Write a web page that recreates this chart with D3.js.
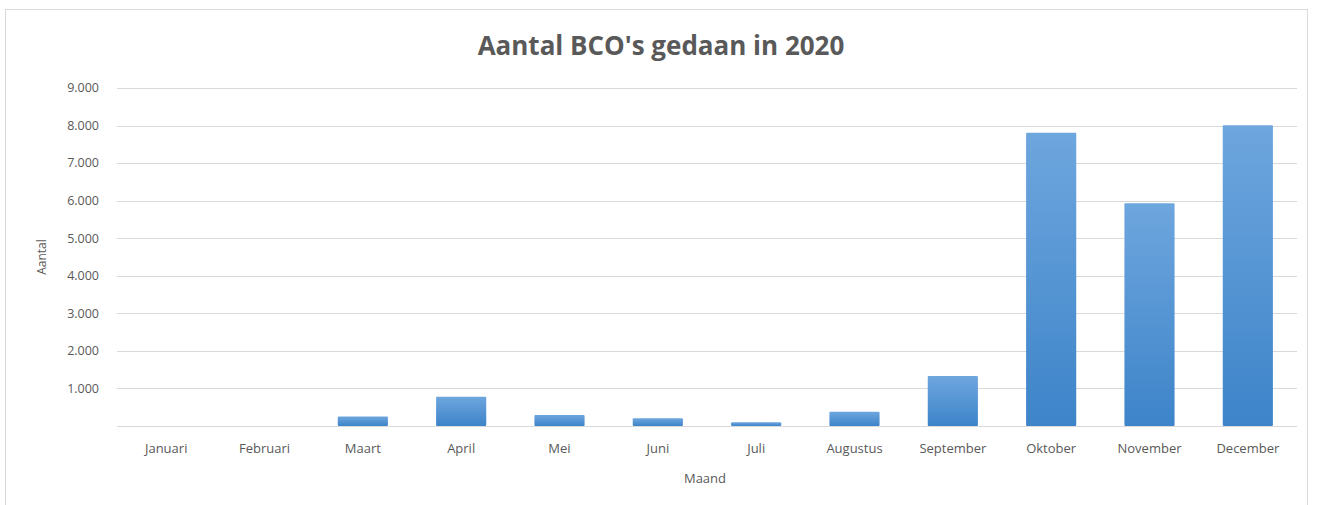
<!DOCTYPE html>
<html>
<head>
<meta charset="utf-8">
<script src="https://cdn.jsdelivr.net/npm/d3@7"></script>
<style>
  body { margin: 0; background: #fff; }
  svg { display: block; font-family: "Open Sans", "Liberation Sans", sans-serif; }
</style>
</head>
<body>
<svg id="chart" width="1317" height="505"></svg>
<script>
const months = ["Januari", "Februari", "Maart", "April", "Mei", "Juni", "Juli",
  "Augustus", "September", "Oktober", "November", "December"];
const counts = [0, 0, 250, 780, 295, 205, 100, 380, 1330, 7810, 5930, 8010];
const yTicks = [1000, 2000, 3000, 4000, 5000, 6000, 7000, 8000, 9000];

const width = 1317, height = 505;
const margin = { top: 88, right: 20, bottom: 79, left: 117 };

const svg = d3.select("#chart");

// chart frame
svg.append("rect")
  .attr("x", 5.5).attr("y", 9.5)
  .attr("width", 1302).attr("height", 520)
  .attr("fill", "#fff")
  .attr("stroke", "#d9d9d9");

const defs = svg.append("defs");
const grad = defs.append("linearGradient")
  .attr("id", "barGrad")
  .attr("x1", "0%").attr("y1", "0%").attr("x2", "0%").attr("y2", "100%");
grad.append("stop").attr("offset", "0%").attr("stop-color", "#6ea6de");
grad.append("stop").attr("offset", "100%").attr("stop-color", "#3d84c9");

const x = d3.scaleBand()
  .domain(months)
  .range([margin.left, width - margin.right])
  .paddingInner(0.49)
  .paddingOuter(0.245);

const y = d3.scaleLinear()
  .domain([0, 9000])
  .range([height - margin.bottom, margin.top]);

// gridlines
svg.append("g")
  .selectAll("line")
  .data(yTicks)
  .join("line")
  .attr("x1", margin.left)
  .attr("x2", width - margin.right)
  .attr("y1", d => Math.round(y(d)) + 0.5)
  .attr("y2", d => Math.round(y(d)) + 0.5)
  .attr("stroke", "#d9d9d9");

// y labels
const fmt = d3.formatLocale({ decimal: ",", thousands: ".", grouping: [3], currency: ["€", ""] }).format(",d");
svg.append("g")
  .selectAll("text")
  .data(yTicks)
  .join("text")
  .attr("x", 99)
  .attr("y", d => y(d))
  .attr("dy", "0.35em")
  .attr("text-anchor", "end")
  .attr("font-size", 12.5)
  .attr("fill", "#595959")
  .text(d => fmt(d));

// bars
svg.append("g")
  .selectAll("rect")
  .data(months)
  .join("rect")
  .attr("x", d => x(d))
  .attr("y", (d, i) => y(counts[i]))
  .attr("width", x.bandwidth())
  .attr("height", (d, i) => y(0) - y(counts[i]))
  .attr("rx", 1)
  .attr("fill", "url(#barGrad)");

// baseline
svg.append("line")
  .attr("x1", margin.left)
  .attr("x2", width - margin.right)
  .attr("y1", Math.round(y(0)) + 0.5)
  .attr("y2", Math.round(y(0)) + 0.5)
  .attr("stroke", "#d9d9d9");

// x labels
const xAxis = d3.axisBottom(x).tickSize(0).tickPadding(18);
const gx = svg.append("g")
  .attr("transform", `translate(0,${y(0)})`)
  .call(xAxis);
gx.select(".domain").remove();
gx.selectAll("text")
  .attr("font-size", 13)
  .attr("font-family", "'Open Sans', 'Liberation Sans', sans-serif")
  .attr("fill", "#595959");

// title
svg.append("text")
  .attr("x", 661)
  .attr("y", 55)
  .attr("text-anchor", "middle")
  .attr("font-size", 26)
  .attr("font-weight", "bold")
  .attr("fill", "#595959")
  .text("Aantal BCO's gedaan in 2020");

// axis titles
svg.append("text")
  .attr("x", 705)
  .attr("y", 483)
  .attr("text-anchor", "middle")
  .attr("font-size", 13)
  .attr("fill", "#595959")
  .text("Maand");

svg.append("text")
  .attr("transform", "translate(46,257) rotate(-90)")
  .attr("text-anchor", "middle")
  .attr("font-size", 12)
  .attr("fill", "#595959")
  .text("Aantal");
</script>
</body>
</html>
